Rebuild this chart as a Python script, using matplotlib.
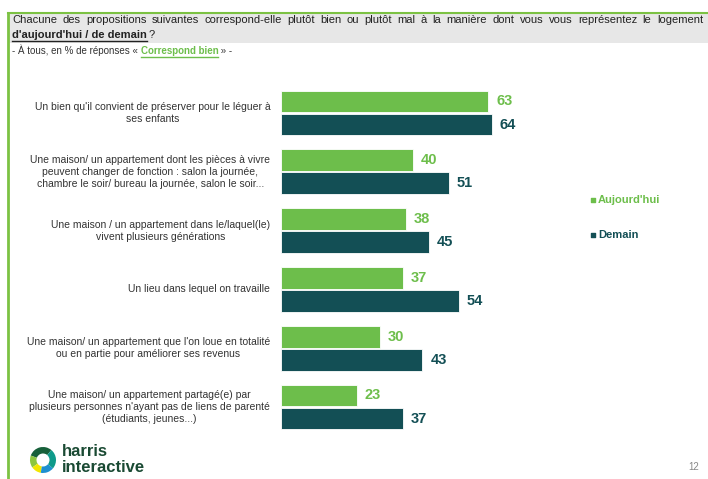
import numpy as np
import matplotlib.pyplot as plt
from matplotlib.patches import Rectangle, Wedge

plt.rcParams['font.family'] = ['Liberation Sans', 'DejaVu Sans']

categories = [
    "Un bien qu'il convient de préserver pour le léguer à\nses enfants",
    "Une maison/ un appartement dont les pièces à vivre\npeuvent changer de fonction : salon la journée,\nchambre le soir/ bureau la journée, salon le soir...",
    "Une maison / un appartement dans le/laquel(le)\nvivent plusieurs générations",
    "Un lieu dans lequel on travaille",
    "Une maison/ un appartement que l'on loue en totalité\nou en partie pour améliorer ses revenus",
    "Une maison/ un appartement partagé(e) par\nplusieurs personnes n'ayant pas de liens de parenté\n(étudiants, jeunes...)",
]
aujourdhui = [63, 40, 38, 37, 30, 23]
demain = [64, 51, 45, 54, 43, 37]
series_names = ["Aujourd'hui", "Demain"]

green = '#6dbe4b'
dark = '#134f55'
line_green = '#7cc243'

W, H = 708, 479
fig = plt.figure(figsize=(W / 100, H / 100), dpi=100)

# header band and green frame (figure pixel coords)
bg = fig.add_axes([0, 0, 1, 1])
bg.set_xlim(0, W)
bg.set_ylim(H, 0)
bg.axis('off')
bg.add_patch(Rectangle((8, 13), W - 8, 30, facecolor='#e7e7e7', edgecolor='none', zorder=0))
bg.plot([8, W], [13, 13], color=line_green, lw=1.5)
bg.plot([8, 8], [13, H], color=line_green, lw=2)

fig.canvas.draw()
renderer = fig.canvas.get_renderer()

def underline(t, ybase, color):
    bb = t.get_window_extent(renderer)
    bg.plot([bb.x0, bb.x1], [ybase + 2.5, ybase + 2.5], color=color, lw=1, zorder=5)

# title, justified over the width
title_words = ("Chacune des propositions suivantes correspond-elle plutôt bien ou plutôt mal "
               "à la manière dont vous vous représentez le logement").split()
ws = []
for w in title_words:
    t = bg.text(0, 0, w, fontsize=8)
    ws.append(t.get_window_extent(renderer).width)
    t.remove()
x0, x1 = 12, 703
gap = (x1 - x0 - sum(ws)) / (len(title_words) - 1)
x = x0
for w, wd in zip(title_words, ws):
    bg.text(x, 20, w, fontsize=8, color='#222222', va='center')
    x += wd + gap

t = bg.text(12, 38, "d'aujourd'hui / de demain", fontsize=8, fontweight='bold',
            color='#222222', va='baseline')
underline(t, 38, '#222222')
bb = t.get_window_extent(renderer)
bg.text(bb.x1 + 2, 38, "?", fontsize=8, color='#222222', va='baseline')

t = bg.text(12, 54, "- À tous, en % de réponses « ", fontsize=7, color='#333333', va='baseline')
bb = t.get_window_extent(renderer)
t2 = bg.text(bb.x1, 54, "Correspond bien", fontsize=7, fontweight='bold', color=green, va='baseline')
underline(t2, 54, green)
bb2 = t2.get_window_extent(renderer)
bg.text(bb2.x1, 54, " » -", fontsize=7, color='#333333', va='baseline')

# bar chart
ax = fig.add_axes([281 / W, 1 - 440 / H, 329 / W, 360 / H])
y = np.arange(len(categories))
h = 0.37
off = 0.197
ax.barh(y - off, aujourdhui, height=h, color=green, edgecolor='white', lw=0.6)
ax.barh(y + off, demain, height=h, color=dark, edgecolor='white', lw=0.6)
ax.set_xlim(0, 100)
ax.set_ylim(5.561, -0.561)
ax.axis('off')
for i in range(len(categories)):
    ax.text(aujourdhui[i] + 2.4, y[i] - off, str(aujourdhui[i]), color=green,
            fontsize=10.5, fontweight='bold', va='center')
    ax.text(demain[i] + 2.4, y[i] + off, str(demain[i]), color=dark,
            fontsize=10.5, fontweight='bold', va='center')
    ax.text(-3.3, y[i], categories[i], ha='right', va='center', multialignment='center',
            fontsize=7.5, color='#333333', linespacing=1.25)

# legend
for name, col, ly in zip(series_names, [green, dark], [200, 235]):
    bg.scatter([593], [ly], marker='s', s=5, color=col)
    bg.text(598, ly, name, fontsize=8, fontweight='bold', color=col, va='center')

# logo
ring = [('#17603a', 50, 160), ('#8dc63f', 160, 215), ('#f2e600', 215, 260),
        ('#1e90d0', 260, 320), ('#0f9a8a', 320, 410)]
for col, a0, a1 in ring:
    bg.add_patch(Wedge((43, 460), 13, -a1, -a0, width=6.5, facecolor=col, edgecolor='none'))
bg.text(62, 452, "harris", fontsize=12, fontweight='bold', color='#1a4a33', va='center')
bg.text(62, 468, "interactive", fontsize=12, fontweight='bold', color='#1a4a33', va='center')
bg.text(688, 467, "12", fontsize=7, color='#888888', va='center')

fig.savefig('out.png', dpi=100)
